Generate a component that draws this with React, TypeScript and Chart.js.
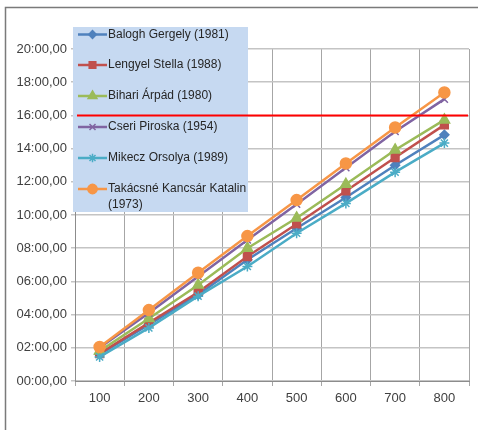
import React, { useEffect, useRef } from "react";
import { Chart, registerables } from "chart.js";
import { drawPoint } from "chart.js/helpers";

Chart.register(...registerables);

const categories = ["100", "200", "300", "400", "500", "600", "700", "800"];

const seriesNames = [
  "Balogh Gergely (1981)",
  "Lengyel Stella (1988)",
  "Bihari Árpád (1980)",
  "Cseri Piroska (1954)",
  "Mikecz Orsolya (1989)",
  "Takácsné Kancsár Katalin (1973)",
];

// times in minutes
const balogh = [1.6, 3.4, 5.2, 7.3, 9.2, 11.05, 13.0, 14.83];
const lengyel = [1.65, 3.5, 5.35, 7.5, 9.46, 11.45, 13.46, 15.43];
const bihari = [1.8, 3.77, 5.78, 8.0, 9.82, 11.85, 13.92, 15.73];
const cseri = [2.0, 4.1, 6.3, 8.5, 10.65, 12.85, 15.03, 16.98];
const mikecz = [1.45, 3.2, 5.11, 6.9, 8.9, 10.7, 12.58, 14.33];
const takacsne = [2.05, 4.27, 6.52, 8.73, 10.9, 13.1, 15.27, 17.38];

const seriesValues = [balogh, lengyel, bihari, cseri, mikecz, takacsne];
const seriesColors = ["#4F81BD", "#C0504D", "#9BBB59", "#8064A2", "#4BACC6", "#F79646"];
const seriesPointStyles = ["rectRot", "rect", "triangle", "crossRot", "star", "circle"];
const seriesPointRadius = [4.5, 5.5, 6, 5, 5, 5.5];

const thresholdMinutes = 16;
const yMin = 0;
const yMax = 20;
const yStep = 2;

const FONT = "Liberation Sans";

function fmtTime(v: number): string {
  const total = Math.round(v * 60);
  const m = Math.floor(total / 60);
  const s = total % 60;
  const p = (n: number) => (n < 10 ? "0" + n : "" + n);
  return `${p(m)}:${p(s)},00`;
}

const framePlugin = {
  id: "frame",
  beforeDraw(chart: any) {
    const ctx = chart.ctx;
    ctx.save();
    ctx.fillStyle = "#ffffff";
    ctx.fillRect(0, 0, chart.width, chart.height);
    ctx.strokeStyle = "#7A7A7A";
    ctx.lineWidth = 1.5;
    ctx.beginPath();
    ctx.moveTo(5.5, chart.height + 2);
    ctx.lineTo(5.5, 7.5);
    ctx.lineTo(chart.width + 2, 7.5);
    ctx.stroke();
    ctx.restore();
  },
};

const legendPlugin = {
  id: "boxLegend",
  afterDatasetsDraw(chart: any) {
    const ctx = chart.ctx;
    const bx = 73;
    const by = 27;
    const bw = 175;
    const bh = 185;
    ctx.save();
    ctx.fillStyle = "#C6D9F1";
    ctx.fillRect(bx, by, bw, bh);
    ctx.font = `12px "${FONT}"`;
    ctx.textBaseline = "middle";
    ctx.textAlign = "left";
    const rowY = [34.5, 65, 96, 127, 158, 189];
    const maxW = 150;
    seriesNames.forEach((name, i) => {
      const y = rowY[i];
      const color = seriesColors[i];
      ctx.strokeStyle = color;
      ctx.lineWidth = 2.5;
      ctx.beginPath();
      ctx.moveTo(78, y);
      ctx.lineTo(107, y);
      ctx.stroke();
      ctx.fillStyle = color;
      ctx.strokeStyle = color;
      ctx.lineWidth = 1.5;
      drawPoint(ctx, {
        pointStyle: seriesPointStyles[i],
        radius: seriesPointRadius[i] * 0.85,
        rotation: 0,
        borderWidth: 1.5,
      } as any, 92.5, y);
      const words = name.split(" ");
      const lines: string[] = [];
      let cur = "";
      words.forEach((w) => {
        const t = cur ? cur + " " + w : w;
        if (ctx.measureText(t).width > maxW && cur) {
          lines.push(cur);
          cur = w;
        } else cur = t;
      });
      if (cur) lines.push(cur);
      ctx.fillStyle = "#262626";
      lines.forEach((ln, k) => ctx.fillText(ln, 108, y + k * 16));
    });
    ctx.restore();
  },
  afterDraw(chart: any) {
    const ctx = chart.ctx;
    const area = chart.chartArea;
    const y = chart.scales.y.getPixelForValue(thresholdMinutes);
    ctx.save();
    ctx.strokeStyle = "#FF0000";
    ctx.lineWidth = 2;
    ctx.beginPath();
    ctx.moveTo(area.left + 2, y);
    ctx.lineTo(area.right - 1, y);
    ctx.stroke();
    ctx.restore();
  },
};

export default function App() {
  const ref = useRef<HTMLCanvasElement | null>(null);
  useEffect(() => {
    if (!ref.current) return;
    const chart = new Chart(ref.current, {
      type: "line",
      data: {
        labels: categories,
        datasets: seriesValues.map((vals, i) => ({
          label: seriesNames[i],
          data: vals,
          borderColor: seriesColors[i],
          backgroundColor: seriesColors[i],
          pointBackgroundColor: seriesColors[i],
          pointBorderColor: seriesColors[i],
          pointStyle: seriesPointStyles[i] as any,
          pointRadius: seriesPointRadius[i],
          pointBorderWidth: 1.5,
          borderWidth: 2.5,
          tension: 0,
          fill: false,
          order: seriesValues.length - 1 - i,
        })),
      },
      options: {
        responsive: false,
        animation: false,
        layout: { padding: { top: 49, right: 9, left: 0, bottom: 0 } },
        plugins: {
          legend: { display: false },
          tooltip: { enabled: false },
        },
        scales: {
          x: {
            type: "category",
            offset: true,
            grid: {
              offset: true,
              color: "#A6A6A6",
              lineWidth: 1,
              drawTicks: true,
              tickLength: 5,
            },
            border: { color: "#8C8C8C", width: 1 },
            ticks: {
              color: "#404040",
              font: { family: FONT, size: 13 },
              padding: 5,
              maxRotation: 0,
            },
            afterFit(scale: any) {
              scale.height = 49;
            },
          },
          y: {
            min: yMin,
            max: yMax,
            grid: {
              color: "#C4C4C4",
              lineWidth: 1.5,
              drawTicks: true,
              tickLength: 4,
            },
            border: { color: "#8C8C8C", width: 1 },
            ticks: {
              stepSize: yStep,
              color: "#404040",
              font: { family: FONT, size: 13 },
              padding: 4,
              callback: (v: any) => fmtTime(Number(v)),
            },
            afterFit(scale: any) {
              scale.width = 75;
            },
          },
        },
      },
      plugins: [framePlugin, legendPlugin],
    });
    return () => chart.destroy();
  }, []);
  return (
    <div style={{ position: "fixed", left: 0, top: 0, width: 478, height: 430 }}>
      <canvas ref={ref} width={478} height={430} style={{ width: 478, height: 430, display: "block" }} />
    </div>
  );
}
